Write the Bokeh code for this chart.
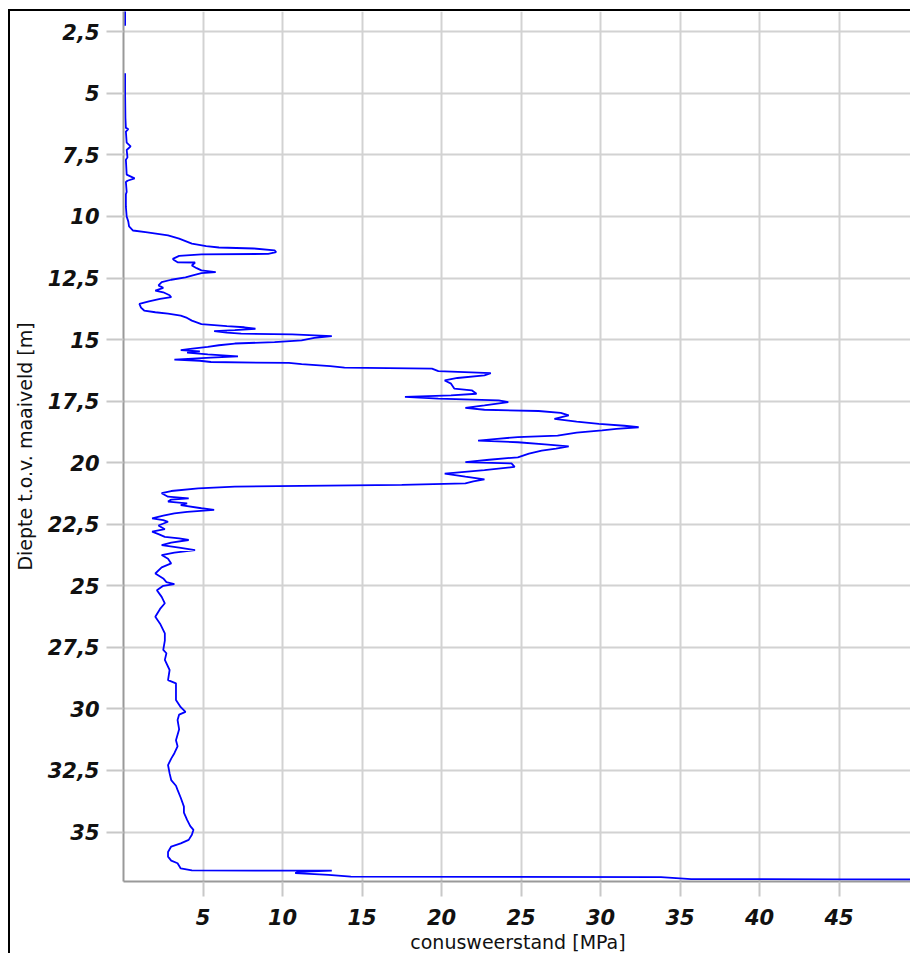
import numpy as np
from bokeh.plotting import figure
from bokeh.models import Range1d, FixedTicker
from bokeh.embed import file_html
from bokeh.resources import INLINE

# Cone resistance profile (CPT): depth [m] and qc [MPa]; NaN marks a gap in the record
depth = [1.65, 2.25, np.nan,
         4.18, 5.0, 6.0, 6.4, 6.45, 6.55, 7.0, 7.15, 7.3, 7.6, 7.7, 8.3, 8.45, 8.55, 8.6,
         9.0, 9.1, 9.6, 10.0, 10.2, 10.4, 10.57, 10.65, 10.77, 10.9, 11.1, 11.2, 11.26,
         11.3, 11.38, 11.45, 11.52, 11.54, 11.6, 11.72, 11.78, 11.86, 11.87, 11.99, 12.1,
         12.19, 12.26, 12.3, 12.4, 12.47, 12.57, 12.67, 12.8, 12.9, 13.01, 13.08, 13.2,
         13.28, 13.35, 13.45, 13.55, 13.7, 13.82, 13.89, 13.95, 14.03, 14.12, 14.23, 14.37,
         14.45, 14.5, 14.56, 14.62, 14.66, 14.72, 14.76, 14.79, 14.86, 14.93, 15.03, 15.1,
         15.16, 15.23, 15.3, 15.38, 15.43, 15.48, 15.53, 15.6, 15.68, 15.73, 15.81, 15.86,
         15.91, 15.95, 16.0, 16.08, 16.14, 16.18, 16.28, 16.36, 16.45, 16.56, 16.66, 16.79,
         16.99, 17.06, 17.2, 17.27, 17.33, 17.4, 17.47, 17.54, 17.67, 17.77, 17.85, 17.9,
         17.98, 18.08, 18.22, 18.33, 18.42, 18.5, 18.56, 18.63, 18.69, 18.78, 18.9, 18.96,
         19.03, 19.1, 19.17, 19.26, 19.34, 19.43, 19.51, 19.63, 19.78, 19.88, 19.98, 20.03,
         20.17, 20.3, 20.44, 20.57, 20.68, 20.76, 20.84, 20.9, 20.94, 20.97, 21.04, 21.15,
         21.24, 21.38, 21.45, 21.5, 21.58, 21.65, 21.72, 21.85, 21.92, 22.0, 22.06, 22.15,
         22.26, 22.33, 22.4, 22.55, 22.7, 22.8, 22.9, 23.01, 23.07, 23.14, 23.25, 23.35,
         23.45, 23.55, 23.65, 23.75, 23.9, 24.09, 24.25, 24.5, 24.7, 24.85, 24.93, 25.0,
         25.18, 25.45, 25.71, 25.94, 26.26, 26.54, 26.93, 27.23, 27.6, 27.74, 28.01, 28.42,
         28.83, 28.96, 29.33, 29.64, 29.93, 30.12, 30.23, 30.45, 30.83, 31.27, 31.52, 31.8,
         32.02, 32.28, 32.62, 32.89, 33.12, 33.29, 33.61, 33.97, 34.21, 34.51, 34.76, 34.91,
         35.11, 35.32, 35.46, 35.59, 35.81, 36.0, 36.16, 36.27, 36.48, 36.56, 36.57, 36.62,
         36.67, 36.74, 36.81, 36.83, 36.91, 36.92, 36.93]
qc = [0.1, 0.1, np.nan,
      0.1, 0.1, 0.12, 0.15, 0.3, 0.15, 0.2, 0.45, 0.2, 0.25, 0.15, 0.2, 0.7, 0.25, 0.15,
      0.2, 0.15, 0.15, 0.2, 0.3, 0.35, 0.6, 1.5, 2.8, 3.5, 4.3, 5.2, 6.0,
      8.2, 9.5, 9.6, 9.1, 4.9, 3.5, 3.1, 3.2, 3.4, 4.5, 4.3, 4.6,
      4.9, 5.8, 4.9, 4.3, 3.9, 3.0, 2.4, 2.2, 2.5, 2.0, 2.5, 2.9,
      3.0, 2.3, 1.6, 1.0, 1.1, 1.3, 2.0, 2.8, 3.6, 4.0, 4.3, 4.9,
      6.5, 7.6, 8.3, 7.0, 5.7, 6.5, 7.4, 10.6, 13.1, 12.0, 11.2, 9.5,
      7.0, 6.0, 5.3, 4.2, 3.6, 4.8, 4.0, 5.3, 7.2, 5.5, 3.2, 4.8,
      5.5, 10.4, 11.2, 13.0, 13.9, 19.4, 19.8, 23.1, 22.7, 21.0, 20.2, 20.6,
      20.8, 21.9, 22.2, 20.6, 17.7, 19.8, 23.6, 24.2, 22.7, 21.5, 22.7, 26.1,
      27.5, 28.0, 27.1, 28.5, 29.9, 31.5, 32.4, 31.0, 30.1, 28.5, 27.3, 24.8,
      23.5, 22.3, 24.8, 26.5, 28.0, 27.2, 26.3, 25.5, 24.8, 23.0, 21.5, 24.4,
      24.6, 22.7, 20.2, 21.5, 22.7, 22.0, 21.5, 17.5, 11.2, 7.0, 4.7, 3.0,
      2.4, 2.8, 4.1, 3.0, 2.8, 4.0, 3.6, 4.9, 5.7, 4.0, 3.2, 2.5,
      1.8, 2.5, 2.8, 2.2, 2.6, 1.8, 2.2, 2.6, 3.5, 4.1, 3.0, 2.4,
      3.5, 4.5, 3.2, 2.4, 2.8, 3.0, 2.4, 2.0, 2.5, 2.7, 3.2, 2.5,
      2.1, 2.4, 2.6, 2.3, 2.0, 2.3, 2.6, 2.6, 2.5, 2.7, 2.6, 2.9,
      2.8, 3.3, 3.3, 3.3, 3.6, 3.9, 3.5, 3.4, 3.5, 3.3, 3.4, 3.2,
      3.0, 2.8, 2.9, 3.0, 3.3, 3.4, 3.6, 3.8, 3.8, 4.0, 4.2, 4.4,
      4.3, 4.1, 3.6, 3.0, 2.8, 2.8, 3.0, 3.4, 3.6, 4.3, 13.1, 11.0,
      10.8, 12.9, 14.3, 33.8, 35.7, 45.0, 50.0]

x_ticks = [5, 10, 15, 20, 25, 30, 35, 40, 45, 50]
x_tick_labels = ["5", "10", "15", "20", "25", "30", "35", "40", "45", "50"]
y_ticks = [2.5, 5, 7.5, 10, 12.5, 15, 17.5, 20, 22.5, 25, 27.5, 30, 32.5, 35]
y_tick_labels = ["2,5", "5", "7,5", "10", "12,5", "15", "17,5", "20", "22,5", "25",
                 "27,5", "30", "32,5", "35"]

p = figure(width=902, height=944, output_backend="svg", toolbar_location=None,
           x_range=Range1d(0, 49.62), y_range=Range1d(37.01, 1.675),
           min_border_left=112, min_border_top=0, min_border_right=0, min_border_bottom=73)
p.styles = {"margin-left": "8px", "margin-top": "9px",
            "border-top": "2px solid black", "border-left": "2px solid black"}
p.outline_line_color = None
p.background_fill_color = "white"

p.line(qc, depth, line_color="#0000ff", line_width=1.8)

for ax in (p.xaxis[0], p.yaxis[0]):
    ax.major_label_text_font = "DejaVu Sans"
    ax.major_label_text_font_style = "bold italic"
    ax.major_label_text_font_size = "21px"
    ax.major_label_text_color = "#111111"
    ax.axis_line_color = "#999999"
    ax.axis_line_width = 2
    ax.major_tick_line_color = "#c8c8c8"
    ax.major_tick_line_width = 2
    ax.minor_tick_line_color = None
    ax.major_tick_in = 0
    ax.axis_label_text_font = "DejaVu Sans"
    ax.axis_label_text_font_style = "normal"
    ax.axis_label_text_font_size = "19px"
    ax.axis_label_text_color = "#111111"

p.xaxis.ticker = FixedTicker(ticks=x_ticks)
p.xaxis.major_label_overrides = dict(zip(x_ticks, x_tick_labels))
p.xaxis.major_tick_out = 15
p.xaxis.major_label_standoff = 12
p.xaxis.axis_label = "conusweerstand [MPa]"
p.xaxis.axis_label_standoff = 3

p.yaxis.ticker = FixedTicker(ticks=y_ticks)
p.yaxis.major_label_overrides = dict(zip(y_ticks, y_tick_labels))
p.yaxis.major_tick_out = 17
p.yaxis.major_label_standoff = 7
p.yaxis.axis_label = "Diepte t.o.v. maaiveld [m]"
p.yaxis.axis_label_standoff = 9

p.xgrid.ticker = FixedTicker(ticks=x_ticks)
p.ygrid.ticker = FixedTicker(ticks=y_ticks)
p.grid.grid_line_color = "#d2d2d2"
p.grid.grid_line_width = 2

open("out.html", "w").write(file_html(p, INLINE))
